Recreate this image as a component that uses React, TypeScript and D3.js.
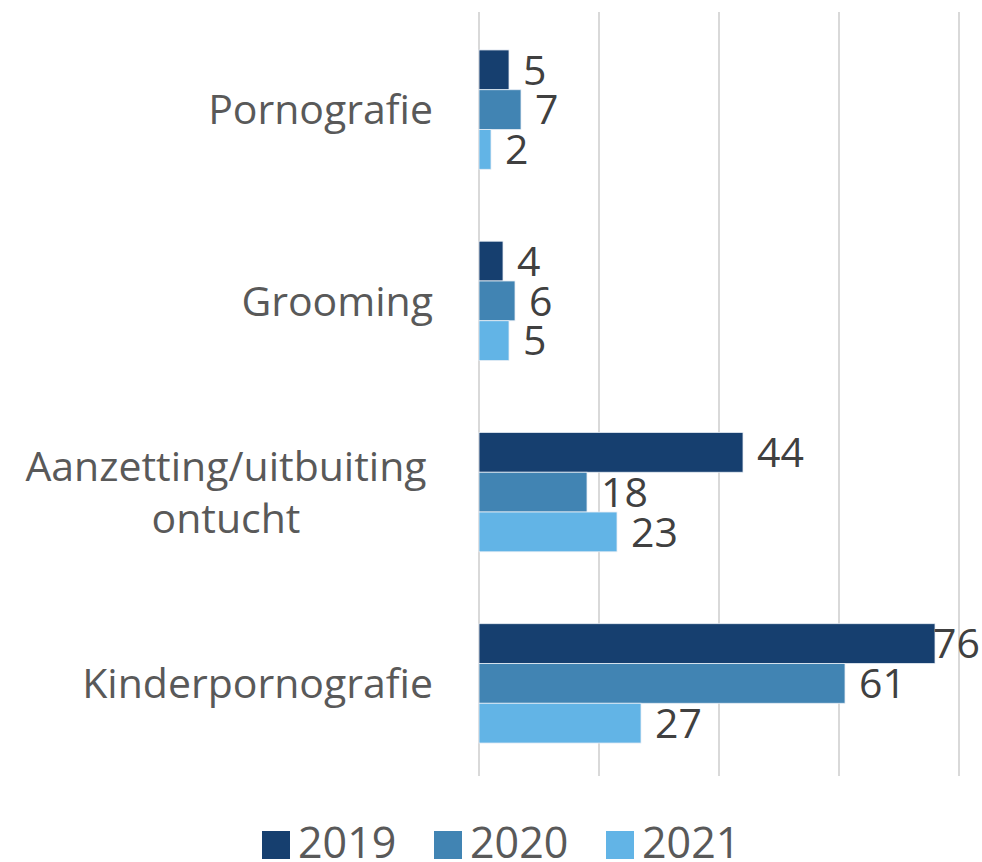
import React from "react";
import * as d3 from "d3";

const categories = ["Pornografie", "Grooming", "Aanzetting/uitbuiting\nontucht", "Kinderpornografie"];
const seriesNames = ["2019", "2020", "2021"];
const values2019 = [5, 4, 44, 76];
const values2020 = [7, 6, 18, 61];
const values2021 = [2, 5, 23, 27];
const xTicks = [0, 20, 40, 60, 80];
const colors = ["#163f6f", "#4184b3", "#62b4e6"];

export default function App() {
  const W = 982, H = 862;
  const x0 = 479, x1 = 959;
  const yTop = 14, yBot = 779;
  const x = d3.scaleLinear().domain([0, 80]).range([x0, x1]);
  const y = d3.scaleBand().domain(categories).range([yTop, yBot]).paddingInner(0.376).paddingOuter(0.188);
  const inner = d3.scaleBand().domain(seriesNames).range([0, y.bandwidth()]);
  const series = [values2019, values2020, values2021];
  const font = "'Open Sans', sans-serif";
  const fs = 41;
  const lfs = 41;
  return (
    <svg width={W} height={H} style={{ position: "absolute", left: 0, top: 0 }}>
      <rect width={W} height={H} fill="#fff" />
      {xTicks.map((t) => (
        <line key={t} x1={x(t)} x2={x(t)} y1={12} y2={776} stroke="#d9d9d9" strokeWidth={2} />
      ))}
      {categories.map((c, ci) => (
        <g key={c}>
          {series.map((vals, si) => {
            const by = (y(c) as number) + (inner(seriesNames[si]) as number);
            const bh = inner.bandwidth();
            const label = String(vals[ci]);
            const tw = label.length * 0.572 * lfs;
            const endX = Math.min(x(vals[ci]) + 14 + tw, W - 2);
            return (
              <g key={si}>
                <rect x={x(0)} y={by} width={x(vals[ci]) - x(0)} height={bh} fill={colors[si]} stroke="#e8eef5" strokeWidth={0.8} />
                <text x={endX} y={by + bh / 2} dy="0.36em" textAnchor="end" fontFamily={font} fontSize={lfs} fill="#404040">
                  {label}
                </text>
              </g>
            );
          })}
          {(() => {
            const lines = c.split("\n");
            const cy = (y(c) as number) + y.bandwidth() / 2;
            const lh = 52;
            if (lines.length === 1) {
              return (
                <text x={433} y={cy} dy="0.36em" textAnchor="end" fontFamily={font} fontSize={fs} fill="#595959">
                  {c}
                </text>
              );
            }
            return (
              <text x={226} textAnchor="middle" fontFamily={font} fontSize={fs} fill="#595959">
                {lines.map((l, li) => (
                  <tspan key={li} x={226} y={cy + (li - (lines.length - 1) / 2) * lh} dy="0.36em">
                    {l}
                  </tspan>
                ))}
              </text>
            );
          })()}
        </g>
      ))}
      {seriesNames.map((s, si) => (
        <g key={s} transform={`translate(${262 + si * 172},831)`}>
          <rect width={28} height={28} fill={colors[si]} />
          <text x={36} y={27} fontFamily={font} fontSize={43} fill="#595959">
            {s}
          </text>
        </g>
      ))}
    </svg>
  );
}
